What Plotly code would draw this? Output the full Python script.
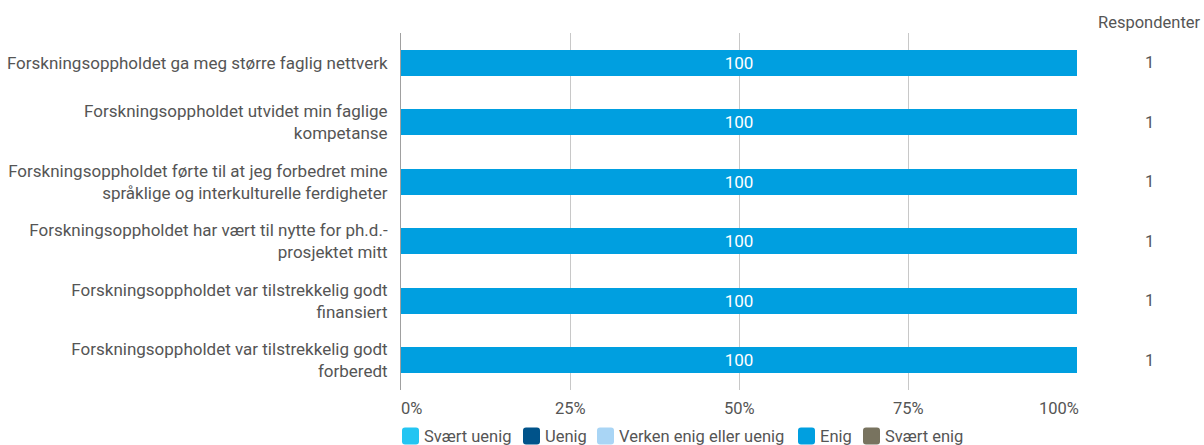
import plotly.graph_objects as go

categories = [
    "Forskningsoppholdet ga meg større faglig nettverk",
    "Forskningsoppholdet utvidet min faglige<br>kompetanse",
    "Forskningsoppholdet førte til at jeg forbedret mine<br>språklige og interkulturelle ferdigheter",
    "Forskningsoppholdet har vært til nytte for ph.d.-<br>prosjektet mitt",
    "Forskningsoppholdet var tilstrekkelig godt<br>finansiert",
    "Forskningsoppholdet var tilstrekkelig godt<br>forberedt",
]
series_names = ["Svært uenig", "Uenig", "Verken enig eller uenig", "Enig", "Svært enig"]
series_values = {
    "Svært uenig": [0, 0, 0, 0, 0, 0],
    "Uenig": [0, 0, 0, 0, 0, 0],
    "Verken enig eller uenig": [0, 0, 0, 0, 0, 0],
    "Enig": [100, 100, 100, 100, 100, 100],
    "Svært enig": [0, 0, 0, 0, 0, 0],
}
series_colors = {
    "Svært uenig": "#23c5f2",
    "Uenig": "#00538a",
    "Verken enig eller uenig": "#a9d5f5",
    "Enig": "#009fe0",
    "Svært enig": "#78735f",
}
respondents = [1, 1, 1, 1, 1, 1]
x_tickvals = [0, 25, 50, 75, 100]
x_ticktext = ["0%", "25%", "50%", "75%", "100%"]

font_family = "Roboto"
text_color = "#555555"
font_size = 16.5

# Figure geometry (pixels)
W, H = 1204, 445
M_L, M_R, M_T, M_B = 401, 127, 33, 55
PW, PH = W - M_L - M_R, H - M_T - M_B


def px_x(px):
    return (px - M_L) / PW


def px_y(py):
    return (H - M_B - py) / PH


fig = go.Figure()
for name in series_names:
    vals = series_values[name]
    fig.add_trace(go.Bar(
        name=name,
        y=categories,
        x=vals,
        orientation="h",
        marker=dict(color=series_colors[name], line=dict(width=0)),
        text=[str(v) if v > 0 else "" for v in vals],
        textposition="inside",
        insidetextanchor="middle",
        textfont=dict(color="white", size=17, family=font_family),
        hoverinfo="x+name",
        showlegend=False,
    ))

annotations = []

# Percentage labels under the grid: outer labels kept inside the plot width
for i, (val, label) in enumerate(zip(x_tickvals, x_ticktext)):
    if i == 0:
        anchor, shift = "left", -2
    elif i == len(x_tickvals) - 1:
        anchor, shift = "right", 4
    else:
        anchor, shift = "center", 0
    annotations.append(dict(
        text=label, xref="x", yref="paper", x=val, y=px_y(408),
        showarrow=False, xanchor=anchor, yanchor="middle", xshift=shift,
        font=dict(size=font_size, color=text_color, family=font_family),
    ))

# Respondent counts in a column to the right of the bars
annotations.append(dict(
    text="Respondenter", xref="paper", yref="paper", x=px_x(1149), y=px_y(22),
    showarrow=False, xanchor="center", yanchor="middle",
    font=dict(size=font_size, color=text_color, family=font_family),
))
for cat, n in zip(categories, respondents):
    annotations.append(dict(
        text=str(n), xref="paper", yref="y", x=px_x(1149), y=cat,
        showarrow=False, xanchor="center", yanchor="middle",
        font=dict(size=font_size, color=text_color, family=font_family),
    ))

# Legend row below the axis: rounded swatch followed by its label
shapes = []
legend_left = [402, 523, 597, 798, 863]
legend_cy = 436
sw, r = 17, 3
for name, lx in zip(series_names, legend_left):
    x0, x1 = lx, lx + sw
    y0, y1 = legend_cy - sw / 2, legend_cy + sw / 2
    pts = [
        f"M {px_x(x0 + r)},{px_y(y0)}",
        f"L {px_x(x1 - r)},{px_y(y0)}",
        f"Q {px_x(x1)},{px_y(y0)} {px_x(x1)},{px_y(y0 + r)}",
        f"L {px_x(x1)},{px_y(y1 - r)}",
        f"Q {px_x(x1)},{px_y(y1)} {px_x(x1 - r)},{px_y(y1)}",
        f"L {px_x(x0 + r)},{px_y(y1)}",
        f"Q {px_x(x0)},{px_y(y1)} {px_x(x0)},{px_y(y1 - r)}",
        f"L {px_x(x0)},{px_y(y0 + r)}",
        f"Q {px_x(x0)},{px_y(y0)} {px_x(x0 + r)},{px_y(y0)}",
        "Z",
    ]
    shapes.append(dict(
        type="path", xref="paper", yref="paper", path=" ".join(pts),
        fillcolor=series_colors[name], line=dict(width=0), layer="above",
    ))
    annotations.append(dict(
        text=name, xref="paper", yref="paper", x=px_x(x1 + 3), y=px_y(legend_cy),
        showarrow=False, xanchor="left", yanchor="middle",
        font=dict(size=font_size, color=text_color, family=font_family),
    ))

fig.update_layout(
    width=W,
    height=H,
    barmode="stack",
    bargap=0.56,
    plot_bgcolor="white",
    paper_bgcolor="white",
    margin=dict(l=M_L, r=M_R, t=M_T, b=M_B),
    font=dict(family=font_family, size=font_size, color=text_color),
    showlegend=False,
    annotations=annotations,
    shapes=shapes,
    xaxis=dict(
        range=[0, 100],
        tickvals=x_tickvals,
        showticklabels=False,
        showgrid=True,
        gridcolor="#c8c8c8",
        gridwidth=1,
        zeroline=False,
        showline=False,
        ticks="",
        fixedrange=True,
        automargin=False,
    ),
    yaxis=dict(
        autorange="reversed",
        showline=True,
        linecolor="#a0a0a0",
        linewidth=1,
        ticks="outside",
        ticklen=9,
        tickcolor="rgba(0,0,0,0)",
        tickfont=dict(size=17, color=text_color),
        showgrid=False,
        fixedrange=True,
        automargin=False,
    ),
)

fig.write_html("out.html")
